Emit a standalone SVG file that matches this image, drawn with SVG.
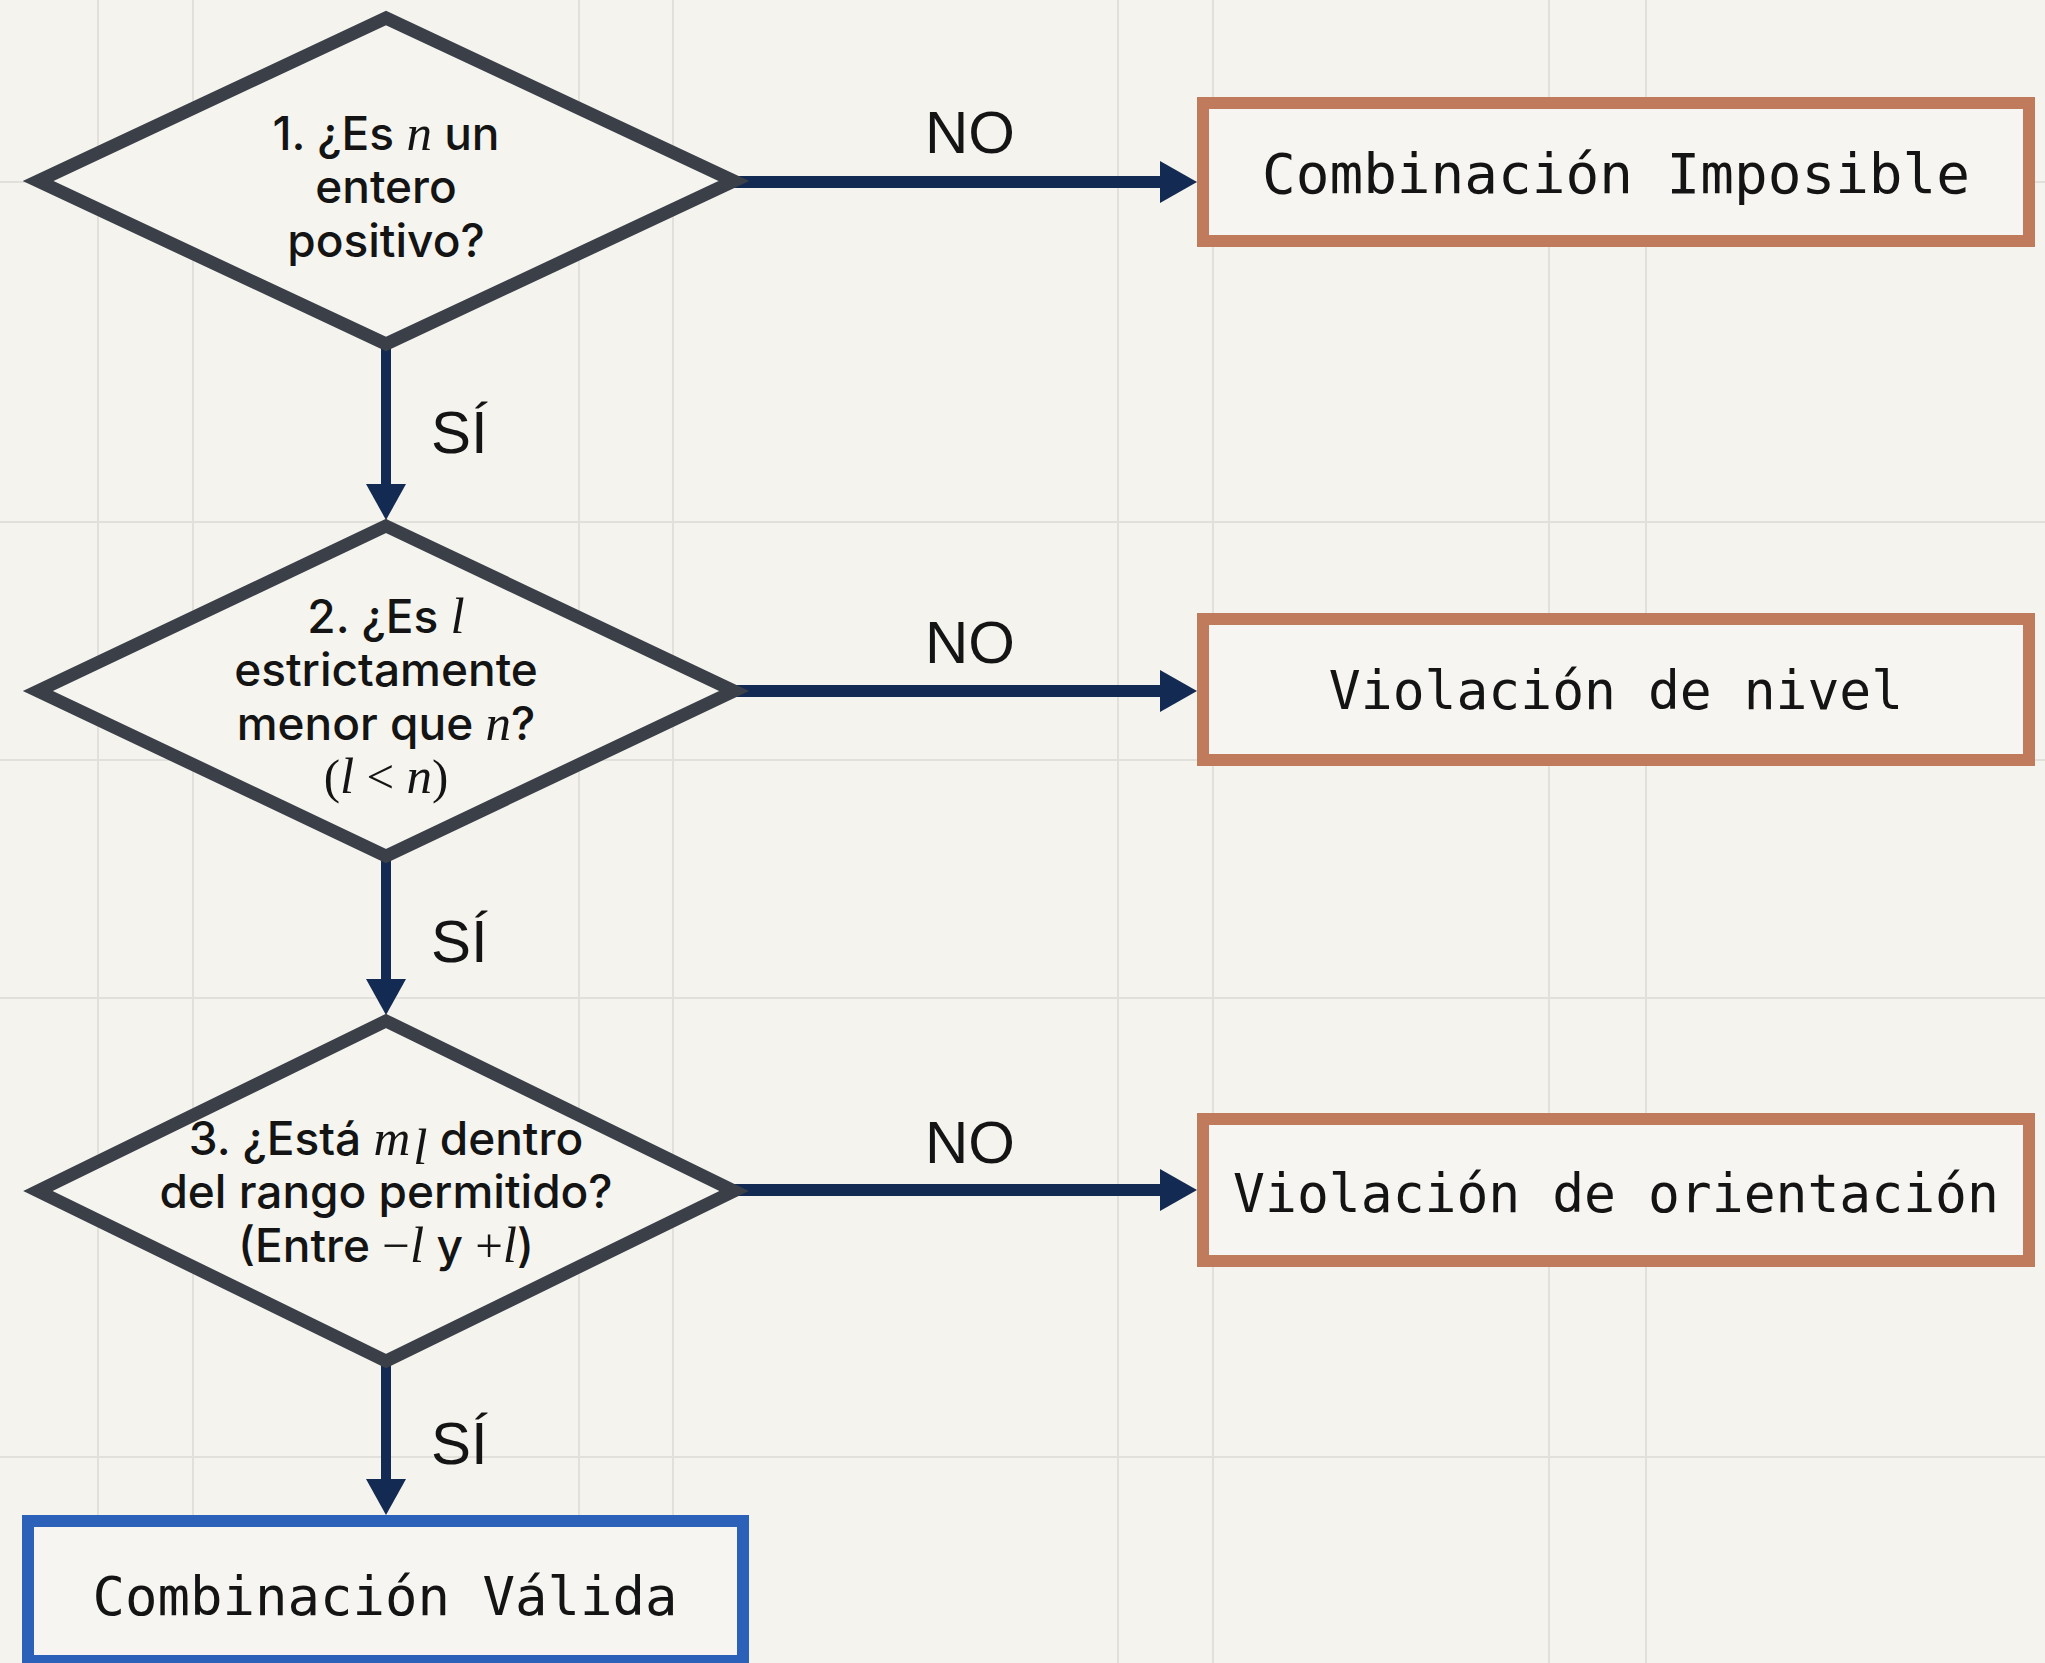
<svg xmlns="http://www.w3.org/2000/svg" width="2045" height="1663" viewBox="0 0 2045 1663">
<style>
.grid line{stroke:#e2e0da;stroke-width:2}
.dia{fill:#f5f4ef;stroke:#3b4048;stroke-width:13;stroke-linejoin:miter;stroke-miterlimit:10}
.q{font-family:Inter,"Liberation Sans",sans-serif;font-size:46px;font-weight:500;fill:#141414;text-anchor:middle}
.m{font-family:"Liberation Serif",serif;font-style:italic;font-weight:400;font-size:51px}
.mu{font-family:"Liberation Serif",serif;font-weight:400;font-size:49px}
.box{fill:#f6f5f1;stroke-width:12}
.err{stroke:#c07a5c}
.ok{stroke:#2b61b9}
.bt{font-family:"DejaVu Sans Mono","Liberation Mono",monospace;fill:#141414;text-anchor:middle}
.lbl{font-family:"Liberation Sans",Arial,sans-serif;font-size:60px;fill:#141414}
.edge{stroke:#132a52;fill:none}
.head{fill:#132a52}
</style>
<rect width="2045" height="1663" fill="#f4f3ee"/>
<g class="grid">
<line x1="98" y1="0" x2="98" y2="1663"/>
<line x1="193" y1="0" x2="193" y2="1663"/>
<line x1="579" y1="0" x2="579" y2="1663"/>
<line x1="673" y1="0" x2="673" y2="1663"/>
<line x1="1118" y1="0" x2="1118" y2="1663"/>
<line x1="1213" y1="0" x2="1213" y2="1663"/>
<line x1="1549" y1="0" x2="1549" y2="1663"/>
<line x1="1646" y1="0" x2="1646" y2="1663"/>
<line x1="0" y1="182" x2="2045" y2="182"/>
<line x1="0" y1="522" x2="2045" y2="522"/>
<line x1="0" y1="760" x2="2045" y2="760"/>
<line x1="0" y1="998" x2="2045" y2="998"/>
<line x1="0" y1="1457" x2="2045" y2="1457"/>
</g>
<g id="connectors">
<line class="edge" x1="386" y1="344" x2="386" y2="488" stroke-width="10"/>
<polygon class="head" points="366,484 406,484 386,520"/>
<line class="edge" x1="386" y1="856" x2="386" y2="983" stroke-width="10"/>
<polygon class="head" points="366,979 406,979 386,1015"/>
<line class="edge" x1="386" y1="1361" x2="386" y2="1483" stroke-width="10"/>
<polygon class="head" points="366,1479 406,1479 386,1515"/>
<line class="edge" x1="734" y1="182" x2="1164" y2="182" stroke-width="12"/>
<polygon class="head" points="1160,161 1160,203 1197,182"/>
<line class="edge" x1="734" y1="691" x2="1164" y2="691" stroke-width="12"/>
<polygon class="head" points="1160,670 1160,712 1197,691"/>
<line class="edge" x1="734" y1="1190" x2="1164" y2="1190" stroke-width="12"/>
<polygon class="head" points="1160,1169 1160,1211 1197,1190"/>
<text class="lbl" x="970" y="153" text-anchor="middle">NO</text>
<text class="lbl" x="970" y="663" text-anchor="middle">NO</text>
<text class="lbl" x="970" y="1163" text-anchor="middle">NO</text>
<text class="lbl" x="431" y="453">SÍ</text>
<text class="lbl" x="431" y="962">SÍ</text>
<text class="lbl" x="431" y="1464">SÍ</text>
</g>
<g id="q1">
<polygon class="dia" points="386,18 734,181 386,344 38,181"/>
<text class="q" x="386" y="150">1. ¿Es <tspan class="m">n</tspan> un</text>
<text class="q" x="386" y="203">entero</text>
<text class="q" x="386" y="257">positivo?</text>
</g>
<g id="q2">
<polygon class="dia" points="386,526 734,691 386,856 38,691"/>
<text class="q" x="386" y="633">2. ¿Es <tspan class="m">l</tspan></text>
<text class="q" x="386" y="686">estrictamente</text>
<text class="q" x="386" y="740">menor que <tspan class="m">n</tspan>?</text>
<text class="q" x="386" y="793"><tspan class="mu">(</tspan><tspan class="m">l</tspan><tspan class="mu"> &lt; </tspan><tspan class="m">n</tspan><tspan class="mu">)</tspan></text>
</g>
<g id="q3">
<polygon class="dia" points="386,1021 734,1191 386,1361 38,1191"/>
<text class="q" x="386" y="1155">3. ¿Está <tspan class="m">m</tspan><tspan class="m" font-size="30" dx="3" dy="9">l</tspan><tspan dy="-9"> dentro</tspan></text>
<text class="q" x="386" y="1208">del rango permitido?</text>
<text class="q" x="386" y="1262">(Entre <tspan class="mu">−</tspan><tspan class="m">l</tspan> y <tspan class="mu">+</tspan><tspan class="m">l</tspan>)</text>
</g>
<g id="r1">
<rect class="box err" x="1203" y="103" width="826" height="138"/>
<text class="bt" x="1616" y="193" font-size="56">Combinación Imposible</text>
</g>
<g id="r2">
<rect class="box err" x="1203" y="619" width="826" height="141"/>
<text class="bt" x="1616" y="709" font-size="53">Violación de nivel</text>
</g>
<g id="r3">
<rect class="box err" x="1203" y="1119" width="826" height="142"/>
<text class="bt" x="1616" y="1212" font-size="53">Violación de orientación</text>
</g>
<g id="r4">
<rect class="box ok" x="28" y="1521" width="715" height="140"/>
<text class="bt" x="385" y="1615" font-size="54">Combinación Válida</text>
</g>
</svg>
